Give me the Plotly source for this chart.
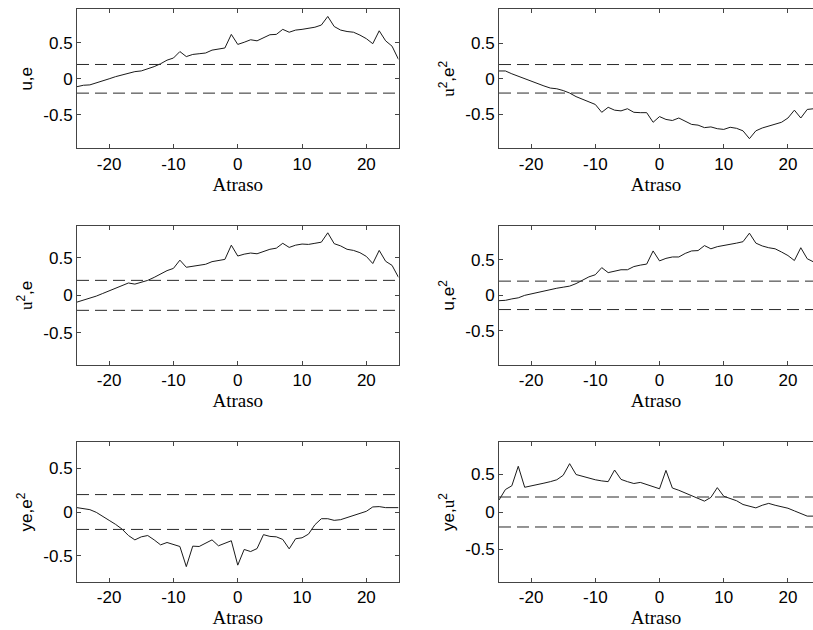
import plotly.graph_objects as go

# Lags shown on every panel
lags = list(range(-25, 26))

# Cross-correlation estimates per panel
ccf_u_e = [-0.11, -0.09, -0.085, -0.06, -0.03, 0.0, 0.03, 0.055, 0.08, 0.10, 0.11, 0.135, 0.17,
           0.21, 0.26, 0.29, 0.38, 0.31, 0.34, 0.35, 0.36, 0.40, 0.42, 0.43, 0.62, 0.48, 0.51,
           0.545, 0.53, 0.57, 0.615, 0.62, 0.69, 0.65, 0.68, 0.69, 0.70, 0.72, 0.75, 0.87, 0.73,
           0.68, 0.66, 0.65, 0.61, 0.56, 0.49, 0.67, 0.53, 0.455, 0.27]
ccf_u2_e2 = [0.11, 0.11, 0.07, 0.035, 0.0, -0.04, -0.07, -0.10, -0.13, -0.14, -0.165, -0.20, -0.25,
             -0.29, -0.33, -0.36, -0.47, -0.40, -0.44, -0.45, -0.42, -0.47, -0.475, -0.475, -0.61,
             -0.53, -0.57, -0.585, -0.55, -0.595, -0.64, -0.65, -0.685, -0.675, -0.70, -0.71, -0.68,
             -0.695, -0.73, -0.84, -0.73, -0.69, -0.66, -0.635, -0.61, -0.55, -0.44, -0.55, -0.43,
             -0.42, -0.40]
ccf_u2_e = [-0.09, -0.065, -0.045, -0.01, 0.025, 0.06, 0.09, 0.13, 0.165, 0.15, 0.17, 0.20, 0.24,
            0.29, 0.33, 0.36, 0.47, 0.375, 0.39, 0.40, 0.415, 0.45, 0.47, 0.48, 0.67, 0.525, 0.55,
            0.565, 0.555, 0.59, 0.615, 0.63, 0.695, 0.64, 0.67, 0.685, 0.68, 0.695, 0.71, 0.835,
            0.69, 0.66, 0.615, 0.60, 0.57, 0.52, 0.425, 0.60, 0.455, 0.40, 0.24]
ccf_u_e2 = [-0.075, -0.07, -0.05, -0.035, 0.0, 0.02, 0.04, 0.07, 0.09, 0.10, 0.115, 0.13, 0.165,
            0.215, 0.26, 0.29, 0.39, 0.32, 0.345, 0.36, 0.36, 0.405, 0.425, 0.44, 0.625, 0.485,
            0.52, 0.54, 0.54, 0.59, 0.625, 0.63, 0.70, 0.655, 0.685, 0.70, 0.71, 0.735, 0.755,
            0.875, 0.735, 0.695, 0.67, 0.655, 0.61, 0.56, 0.49, 0.67, 0.515, 0.47, 0.28]
ccf_ye_e2 = [0.05, 0.042, 0.027, -0.004, -0.046, -0.096, -0.142, -0.196, -0.27, -0.32, -0.285,
             -0.27, -0.32, -0.377, -0.35, -0.377, -0.396, -0.627, -0.392, -0.396, -0.358, -0.32,
             -0.388, -0.358, -0.33, -0.61, -0.43, -0.454, -0.42, -0.26, -0.28, -0.285, -0.315,
             -0.423, -0.307, -0.296, -0.254, -0.146, -0.077, -0.077, -0.096, -0.088, -0.065,
             -0.042, -0.023, 0.008, 0.058, 0.062, 0.05, 0.05, 0.05]
ccf_ye_u2 = [0.16, 0.30, 0.35, 0.61, 0.33, 0.345, 0.36, 0.385, 0.405, 0.43, 0.49, 0.645, 0.50,
             0.475, 0.46, 0.43, 0.415, 0.405, 0.56, 0.435, 0.405, 0.38, 0.395, 0.365, 0.34, 0.31,
             0.555, 0.32, 0.29, 0.255, 0.22, 0.175, 0.145, 0.195, 0.325, 0.21, 0.175, 0.15, 0.10,
             0.075, 0.055, 0.09, 0.115, 0.09, 0.07, 0.05, 0.015, -0.02, -0.055, -0.055, -0.06]

# Confidence band (+/- bound)
band = 0.2

x_ticks = [-20, -10, 0, 10, 20]
x_tick_text = ["-20", "-10", "0", "10", "20"]
y_ticks = [-0.5, 0, 0.5]
y_tick_text = ["-0.5", "0", "0.5"]

SERIF = "Liberation Serif"
SANS = "Liberation Sans"
U_SERIF = "<span style=\"font-family:Liberation Serif\">u</span>"

panels = [
    # (series, y label, y half-range, column, row)
    (ccf_u_e, "u,e", 0.97, 0, 0),
    (ccf_u2_e2, U_SERIF + "<sup>2</sup>,e<sup>2</sup>", 0.975, 1, 0),
    (ccf_u2_e, U_SERIF + "<sup>2</sup>,e", 0.93, 0, 1),
    (ccf_u_e2, "u,e<sup>2</sup>", 0.98, 1, 1),
    (ccf_ye_e2, "ye,e<sup>2</sup>", 0.80, 0, 2),
    (ccf_ye_u2, "ye," + U_SERIF + "<sup>2</sup>", 0.93, 1, 2),
]

W, H = 813, 630
col_px = [(77, 398.5), (499, 813)]
col_range = [(-25, 25), (-25, 23.9)]
row_px = [(9.3, 148.3), (225.7, 365.0), (442.3, 581.7)]

fig = go.Figure()
layout = {}
for i, (series, ylab, yr, col, row) in enumerate(panels):
    n = "" if i == 0 else str(i + 1)
    xa, ya = "x" + n, "y" + n
    fig.add_trace(go.Scatter(x=lags, y=series, mode="lines", xaxis=xa, yaxis=ya,
                             line=dict(color="#1a1a1a", width=1), showlegend=False))
    for b in (band, -band):
        fig.add_trace(go.Scatter(x=[lags[0], lags[-1]], y=[b, b], mode="lines", xaxis=xa, yaxis=ya,
                                 line=dict(color="#2a2a2a", width=1, dash="12px,6px"),
                                 showlegend=False))
    x0, x1 = col_px[col]
    y0, y1 = row_px[row]
    layout["xaxis" + n] = dict(
        domain=[x0 / W, x1 / W], range=list(col_range[col]), anchor=ya,
        tickvals=x_ticks, ticktext=x_tick_text, ticks="inside", ticklen=4, tickcolor="#444",
        showline=True, linecolor="#444", linewidth=1, mirror="ticks",
        showgrid=False, zeroline=False,
        tickfont=dict(family=SANS, size=17, color="#000"),
        title=dict(text="Atraso", font=dict(family=SERIF, size=19, color="#000"), standoff=3),
    )
    layout["yaxis" + n] = dict(
        domain=[1 - y1 / H, 1 - y0 / H], range=[-yr, yr], anchor=xa,
        tickvals=y_ticks, ticktext=y_tick_text, ticks="inside", ticklen=4, tickcolor="#444",
        showline=True, linecolor="#444", linewidth=1, mirror="ticks" if col == 0 else False,
        showgrid=False, zeroline=False,
        tickfont=dict(family=SANS, size=17, color="#000"),
        title=dict(text=ylab, font=dict(family=SANS, size=17, color="#000"), standoff=6),
    )

fig.update_layout(**layout)
fig.update_layout(width=W, height=H, margin=dict(l=0, r=0, t=0, b=0),
                  paper_bgcolor="white", plot_bgcolor="white", showlegend=False,
                  font=dict(family=SANS))

fig.write_html("out.html")
